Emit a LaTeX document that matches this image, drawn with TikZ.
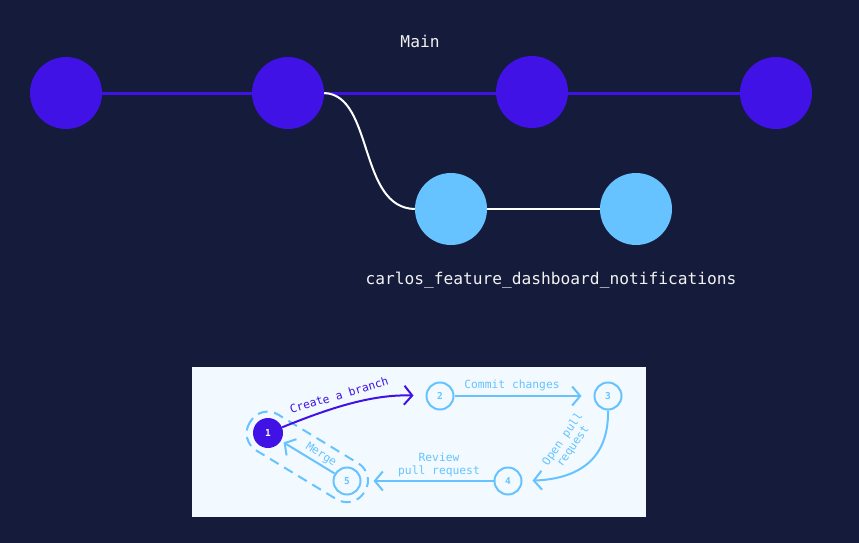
\documentclass[tikz,border=0pt]{standalone}
\usepackage{fontspec}
\setmonofont{DejaVu Sans Mono}
\usetikzlibrary{arrows.meta}
\definecolor{navy}{HTML}{151B3A}
\definecolor{gpurple}{HTML}{4012E5}
\definecolor{gblue}{HTML}{66C3FF}
\definecolor{boxbg}{HTML}{F2FAFF}
\definecolor{txtwhite}{HTML}{F2F2F2}
\pgfdeclarelayer{bg}
\pgfdeclarelayer{lines}
\pgfsetlayers{bg,lines,main}
\tikzset{
  commit/.style={circle,minimum size=72pt,inner sep=0pt},
  mainc/.style={commit,fill=gpurple},
  branchc/.style={commit,fill=gblue},
  stepc/.style={circle,draw=gblue,line width=2pt,minimum size=27pt,inner sep=0pt,
     font=\ttfamily\bfseries\fontsize{9.5}{10}\selectfont,text=gblue,fill=boxbg},
  firstc/.style={circle,fill=gpurple,minimum size=30pt,inner sep=0pt,
     font=\ttfamily\bfseries\fontsize{9.5}{10}\selectfont,text=white},
  flow/.style={line width=2pt,draw=gblue,-{Straight Barb[length=8pt,width=19pt]}},
  lab/.style={font=\ttfamily\fontsize{11.3}{12.5}\selectfont,text=gblue,align=center,inner sep=0pt},
  big/.style={font=\ttfamily\fontsize{16.2}{18}\selectfont,text=txtwhite,inner sep=0pt}
}
\begin{document}
\begin{tikzpicture}[x=1pt,y=-1pt]
\begin{pgfonlayer}{bg}
\fill[navy] (0,0) rectangle (859,543);
\fill[boxbg] (192,367) rectangle (646,517);
\end{pgfonlayer}
\useasboundingbox (0,0) rectangle (859,543);

% main line commits
\node[mainc] (m1) at (66,93) {};
\node[mainc] (m2) at (288,93) {};
\node[mainc] (m3) at (532,92) {};
\node[mainc] (m4) at (776,93) {};
\node[branchc] (b1) at (451,209) {};
\node[branchc] (b2) at (636,209) {};
\node[big] (tmain) at (420,41) {Main};
\node[big] (tbranch) at (551,280) {carlos\_feature\_dashboard\_notifications};

\begin{pgfonlayer}{lines}
\draw[gpurple,line width=3pt] (m1.center) -- (m4.center);
\draw[white,line width=2pt] (m2.east) .. controls (374,95) and (358,208) .. (b1.west);
\draw[white,line width=2pt] (b1.center) -- (b2.center);
\end{pgfonlayer}

% workflow box
\node[firstc] (s1) at (268,433) {1};
\node[stepc] (s2) at (440,396) {2};
\node[stepc] (s3) at (608,396) {3};
\node[stepc] (s4) at (508,481) {4};
\node[stepc] (s5) at (347,481) {5};

\begin{pgfonlayer}{lines}
\begin{scope}[shift={(268,433)},rotate=-31.3]
\draw[gblue,line width=2pt,dash pattern=on 10pt off 6.5pt,rounded corners=20pt]
  (-21,-21) rectangle (113,21);
\end{scope}
\end{pgfonlayer}

\draw[flow,draw=gpurple,shorten >=12pt] (s1) .. controls (325,410) and (370,394) .. (s2.west);
\draw[flow,shorten >=12pt] (s2) -- (s3);
\draw[flow,shorten >=10pt] (s3.south) .. controls (609,462) and (575,479) .. (s4.east);
\draw[flow,shorten >=12pt] (s4) -- (s5);
\draw[flow,shorten >=3pt] (s5) -- (s1);

\node[lab,text=gpurple,rotate=17] (l1) at (339,395) {Create a branch};
\node[lab] (l2) at (512,385) {Commit changes};
\node[lab,rotate=55] (l3) at (568,443) {Open pull\\request};
\node[lab] (l4) at (439,465) {Review\\pull request};
\node[lab,rotate=-33] (l5) at (321,455) {Merge};
\end{tikzpicture}
\end{document}
